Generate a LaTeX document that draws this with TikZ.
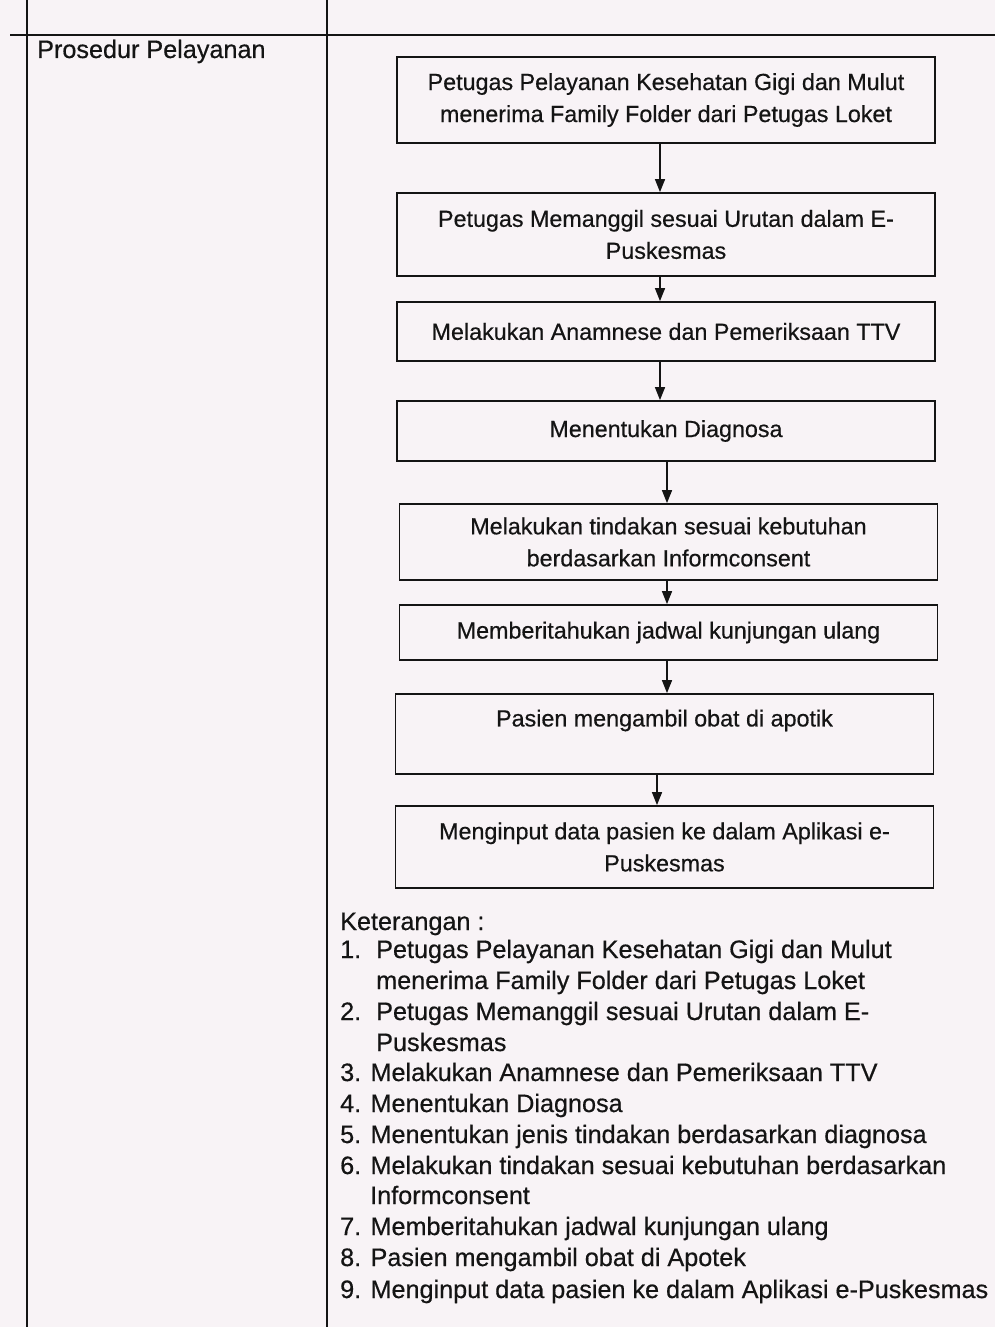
\documentclass[tikz,border=0pt]{standalone}
\usepackage{fontspec}
\setmainfont{Liberation Sans}[FakeBold=0.5]
\usetikzlibrary{arrows.meta}
\definecolor{paper}{RGB}{248,243,246}
\definecolor{ink}{RGB}{20,20,20}
\tikzset{
  langkah/.style={draw=ink, line width=1.8pt, align=center, inner sep=0pt,
    minimum width=538pt, text=ink, font=\fontsize{23.3}{32}\selectfont},
  panah/.style={draw=ink, line width=1.5pt, -{Triangle[length=13pt,width=10pt]}},
  garis/.style={draw=ink, line width=1.8pt},
  ket/.style={anchor=base west, inner sep=0pt, text=ink}
}
\begin{document}
\begin{tikzpicture}[x=1pt, y=-1pt, font=\fontsize{25.2}{31}\selectfont]
  \fill[paper] (0,0) rectangle (995,1327);
  \useasboundingbox (0,0) rectangle (995,1327);

  % kolom tabel
  \draw[garis] (10,35) -- (995,35);
  \draw[garis] (27,0) -- (27,1327);
  \draw[garis] (327,0) -- (327,1327);
  \node[ket] (judul) at (37,58) {Prosedur Pelayanan};

  % alur
  \node[langkah, minimum height=86pt] (b1) at (666,100)
    {Petugas Pelayanan Kesehatan Gigi dan Mulut\\menerima Family Folder dari Petugas Loket};
  \node[langkah, minimum height=83pt] (b2) at (666,234.5)
    {Petugas Memanggil sesuai Urutan dalam E-\\Puskesmas};
  \node[langkah, minimum height=59pt] (b3) at (666,331.5)
    {Melakukan Anamnese dan Pemeriksaan TTV};
  \node[langkah, minimum height=60pt] (b4) at (666,431)
    {Menentukan Diagnosa};
  \node[langkah, minimum height=76pt] (b5) at (668.5,542)
    {Melakukan tindakan sesuai kebutuhan\\berdasarkan Informconsent};
  \node[langkah, minimum height=55pt] (b6) at (668.5,632.5)
    {Memberitahukan jadwal kunjungan ulang};
  \node[langkah, minimum height=80pt] (b7) at (664.5,734)
    {Pasien mengambil obat di apotik\\\mbox{}};
  \node[langkah, minimum height=82pt] (b8) at (664.5,847)
    {Menginput data pasien ke dalam Aplikasi e-\\Puskesmas};

  \draw[panah] ([xshift=-6pt]b1.south) -- ([xshift=-6pt]b2.north);
  \draw[panah] ([xshift=-6pt]b2.south) -- ([xshift=-6pt]b3.north);
  \draw[panah] ([xshift=-6pt]b3.south) -- ([xshift=-6pt]b4.north);
  \draw[panah] ([xshift=1pt]b4.south) -- ([xshift=-1.5pt]b5.north);
  \draw[panah] ([xshift=-1.5pt]b5.south) -- ([xshift=-1.5pt]b6.north);
  \draw[panah] ([xshift=-1.5pt]b6.south) -- ([xshift=2.5pt]b7.north);
  \draw[panah] ([xshift=-7.5pt]b7.south) -- ([xshift=-7.5pt]b8.north);

  % keterangan
  \node[ket] (k0) at (340,930) {Keterangan :};
  \node[ket] (n1) at (340,958) {1.};
  \node[ket] (k1) at (376,958) {Petugas Pelayanan Kesehatan Gigi dan Mulut};
  \node[ket] (k1b) at (376,989) {menerima Family Folder dari Petugas Loket};
  \node[ket] (n2) at (340,1020) {2.};
  \node[ket] (k2) at (376,1020) {Petugas Memanggil sesuai Urutan dalam E-};
  \node[ket] (k2b) at (376,1051) {Puskesmas};
  \node[ket] (k3) at (340,1081) {3. Melakukan Anamnese dan Pemeriksaan TTV};
  \node[ket] (k4) at (340,1112) {4. Menentukan Diagnosa};
  \node[ket] (k5) at (340,1143) {5. Menentukan jenis tindakan berdasarkan diagnosa};
  \node[ket] (k6) at (340,1174) {6. Melakukan tindakan sesuai kebutuhan berdasarkan};
  \node[ket] (k6b) at (370,1204) {Informconsent};
  \node[ket] (k7) at (340,1235) {7. Memberitahukan jadwal kunjungan ulang};
  \node[ket] (k8) at (340,1266) {8. Pasien mengambil obat di Apotek};
  \node[ket] (k9) at (340,1298) {9. Menginput data pasien ke dalam Aplikasi e-Puskesmas};
\end{tikzpicture}
\end{document}
